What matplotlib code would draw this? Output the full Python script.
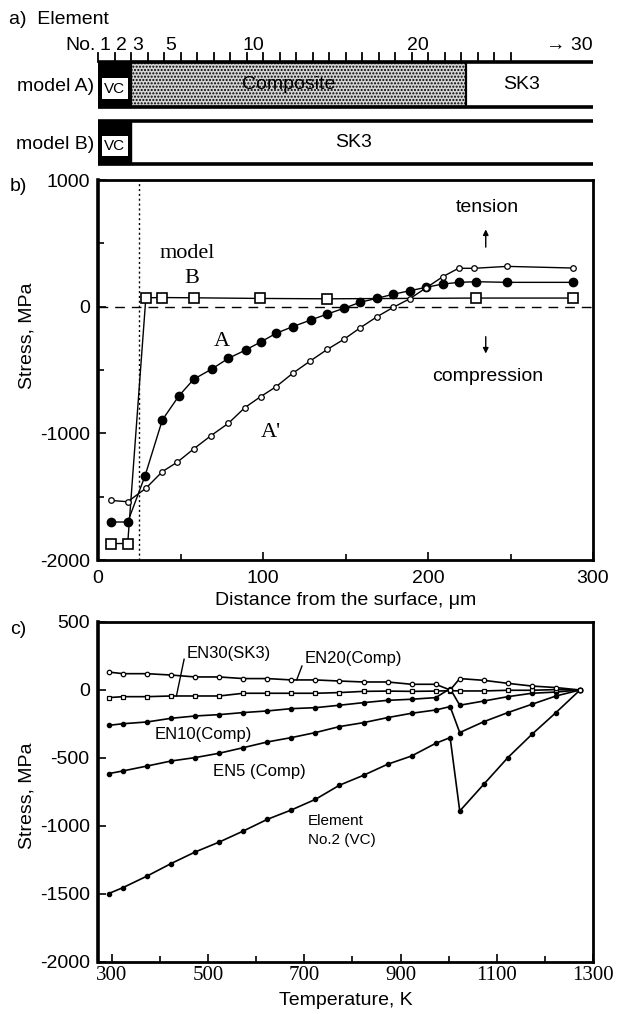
import matplotlib
matplotlib.use('Agg')
import matplotlib.pyplot as plt
from matplotlib.patches import Rectangle
from matplotlib.ticker import MultipleLocator

plt.rcParams['font.family'] = ['Liberation Sans', 'DejaVu Sans']
plt.rcParams['axes.unicode_minus'] = False
plt.rcParams['hatch.color'] = '#9a9a9a'
SERIF = ['Liberation Serif', 'DejaVu Serif']

# ---- a) element layout of the two models ----
elem_labels = ['1', '2', '3', '5', '10', '20']
elem_label_pos = [1, 2, 3, 5, 10, 20]
n_ticks = 25
models = ['model A)', 'model B)']
segments = [
    [('VC', 0, 2), ('Composite', 2, 22.3), ('SK3', 22.3, 30)],
    [('VC', 0, 2), ('SK3', 2, 30)],
]

# ---- b) residual stress vs depth ----
xA = [8, 18, 28.5, 39, 49, 58, 69, 79, 89.5, 99, 108, 118, 129, 139, 149, 159,
      169, 179, 189, 199, 209, 219, 229, 248, 288]
yA = [-1700, -1700, -1336, -894, -705, -573, -492, -408, -342, -276, -210, -158,
      -105, -58, -13, 35, 66, 98, 126, 153, 179, 192, 197, 192, 192]
xA2 = [8, 18, 29, 39, 48, 58, 68.5, 79, 89, 98.6, 108, 118, 128.5, 139, 149, 159,
       169, 179, 189, 199, 209, 218.5, 228, 248, 288]
yA2 = [-1530, -1540, -1434, -1302, -1228, -1123, -1018, -921, -797, -710, -631,
       -526, -430, -337, -258, -166, -80, -5, 63, 150, 237, 303, 303, 318, 305]
xB = [8, 18, 29, 39, 58, 98, 139, 229, 288]
yB = [-1870, -1870, 70, 72, 70, 65, 62, 68, 68]
interface_x = 25

# ---- c) stress vs temperature ----
temp = [293, 323, 373, 423, 473, 523, 573, 623, 673, 723, 773, 823, 873, 923,
        973, 1003, 1023, 1073, 1123, 1173, 1223, 1273]
en20 = [132, 120, 120, 110, 96, 96, 84, 84, 74, 74, 66, 59, 59, 42, 42, 0,
        84, 71, 49, 29, 18, 0]
en30 = [-56, -49, -49, -44, -44, -44, -24, -24, -24, -24, -19, -10, -8, -10,
        -8, -5, -7, -7, -2, -2, 3, 0]
en10 = [-260, -248, -235, -208, -191, -181, -166, -154, -137, -130, -112, -93,
        -76, -68, -56, 10, -112, -81, -49, -24, -15, 0]
en5 = [-615, -595, -559, -522, -497, -465, -424, -382, -350, -313, -269, -240,
       -203, -171, -147, -122, -313, -233, -166, -105, -44, 0]
vc2 = [-1497, -1453, -1368, -1276, -1191, -1118, -1037, -951, -882, -804, -700,
       -627, -546, -485, -392, -350, -890, -693, -497, -326, -166, 0]

W, H = 623, 1014
fig = plt.figure(figsize=(W / 100, H / 100), dpi=100)

def box(l, t, r, b):
    return [l / W, 1 - b / H, (r - l) / W, (b - t) / H]

FS = 14

# ================= panel a =================
axa = fig.add_axes(box(98, 0, 593, 178))
axa.set_xlim(0, 30)
axa.set_ylim(178, 0)
axa.axis('off')
rows = [(62, 107), (121, 164)]

for k in range(n_ticks + 1):
    axa.plot([k, k], [53, 62], color='k', lw=1.3, clip_on=False)
for lab, p in zip(elem_labels, elem_label_pos):
    axa.text(p - 0.6, 46, lab, ha='center', va='center', fontsize=FS)
axa.text(-0.15, 46, 'No.', ha='right', va='center', fontsize=FS)
axa.text(30, 46, '\u2192 30', ha='right', va='center', fontsize=FS)
axa.text(-5.4, 20, 'a)  Element', ha='left', va='center', fontsize=FS)

for name, segs, (top, bot) in zip(models, segments, rows):
    h = bot - top
    for mat, x0, x1 in segs:
        if mat == 'VC':
            axa.add_patch(Rectangle((x0, top), x1 - x0, h, facecolor='k', edgecolor='k'))
            axa.add_patch(Rectangle((x0 + 0.25, top + 0.36 * h), x1 - x0 - 0.45, 0.46 * h,
                                    facecolor='white', edgecolor='none'))
            axa.text((x0 + x1) / 2 + 0.02, top + 0.59 * h, 'VC', ha='center', va='center',
                     fontsize=11)
        elif mat == 'Composite':
            axa.add_patch(Rectangle((x0, top), x1 - x0, h, facecolor='#d4d4d4',
                                    edgecolor='k', lw=1.6, hatch='.....'))
            axa.text((x0 + x1) / 2 - 0.6, top + h / 2, mat, ha='center', va='center',
                     fontsize=FS)
        else:
            axa.text((x0 + x1) / 2 - 0.5, top + h / 2, mat, ha='center', va='center',
                     fontsize=FS)
    axa.plot([0, 30], [top, top], color='k', lw=2.6, solid_capstyle='butt')
    axa.plot([0, 30], [bot, bot], color='k', lw=2.6, solid_capstyle='butt')
    axa.text(-0.25, top + h / 2 + 2, name, ha='right', va='center', fontsize=FS)

# ================= panel b =================
axb = fig.add_axes(box(98, 180, 593, 560))
axb.plot(xB, yB, '-s', color='k', lw=1.0, ms=6.5, mfc='white', mew=1.2)
axb.plot(xA, yA, '-o', color='k', lw=1.0, ms=6, mfc='k')
axb.plot(xA2, yA2, '-o', color='k', lw=1.0, ms=4, mfc='white', mew=0.9)
axb.axhline(0, color='k', lw=1.0, ls=(0, (7, 5)))
axb.axvline(interface_x, color='k', lw=1.0, ls=(0, (1.5, 2)))
axb.set_xlim(0, 300)
axb.set_ylim(-2000, 1000)
axb.xaxis.set_major_locator(MultipleLocator(100))
axb.xaxis.set_minor_locator(MultipleLocator(50))
axb.yaxis.set_major_locator(MultipleLocator(1000))
axb.yaxis.set_minor_locator(MultipleLocator(500))
axb.set_xlabel('Distance from the surface, \u03bcm', fontsize=FS, labelpad=4)
axb.set_ylabel('Stress, MPa', fontsize=FS)
axb.yaxis.set_label_coords(-0.127, 0.59)
axb.text(54, 423, 'model', family=SERIF, fontsize=16, ha='center', va='center')
axb.text(57, 226, 'B', family=SERIF, fontsize=16, ha='center', va='center')
axb.text(75, -278, 'A', family=SERIF, fontsize=16, ha='center', va='center')
axb.text(105, -997, "A'", family=SERIF, fontsize=16, ha='center', va='center')
axb.text(236, 786, 'tension', fontsize=FS, ha='center', va='center')
axb.text(236, -555, 'compression', fontsize=FS, ha='center', va='center')
arrow = dict(arrowstyle='-|>', lw=1.0, color='k', mutation_scale=8, shrinkA=0, shrinkB=0)
axb.annotate('', xy=(235, 610), xytext=(235, 470), arrowprops=arrow)
axb.annotate('', xy=(235, -370), xytext=(235, -237), arrowprops=arrow)
fig.text(10 / W, 1 - 187 / H, 'b)', fontsize=FS, ha='left', va='center')

# ================= panel c =================
axc = fig.add_axes(box(98, 622, 593, 962))
axc.plot(temp, vc2, '-o', color='k', lw=1.2, ms=3)
axc.plot(temp, en5, '-o', color='k', lw=1.2, ms=3)
axc.plot(temp, en10, '-o', color='k', lw=1.2, ms=3)
axc.plot(temp, en30, '-s', color='k', lw=1.2, ms=3.2, mfc='white', mew=0.9)
axc.plot(temp, en20, '-o', color='k', lw=1.2, ms=3.2, mfc='white', mew=0.9)
axc.set_xlim(271, 1300)
axc.set_ylim(-2000, 500)
axc.set_xticks([300, 500, 700, 900, 1100, 1300])
axc.xaxis.set_minor_locator(MultipleLocator(100))
axc.yaxis.set_major_locator(MultipleLocator(500))
axc.set_xlabel('Temperature, K', fontsize=FS, labelpad=5)
axc.set_ylabel('Stress, MPa', fontsize=FS)
axc.yaxis.set_label_coords(-0.127, 0.49)
axc.text(456, 270, 'EN30(SK3)', fontsize=12, ha='left', va='center')
axc.plot([450, 434], [226, -44], color='k', lw=1.0)
axc.text(700, 233, 'EN20(Comp)', fontsize=12, ha='left', va='center')
axc.plot([695, 684], [176, 74], color='k', lw=1.0)
axc.text(389, -326, 'EN10(Comp)', fontsize=12, ha='left', va='center')
axc.text(510, -596, 'EN5 (Comp)', fontsize=12, ha='left', va='center')
axc.text(707, -1032, 'Element\nNo.2 (VC)', fontsize=11, ha='left', va='center',
         linespacing=1.4)
fig.text(10 / W, 1 - 630 / H, 'c)', fontsize=FS, ha='left', va='center')

for ax in (axb, axc):
    for s in ax.spines.values():
        s.set_linewidth(2.0)
    ax.spines['left'].set_linewidth(2.6)
    ax.tick_params(which='both', direction='in', labelsize=FS, width=1.2)
    ax.tick_params(which='major', length=6, pad=6)
    ax.tick_params(which='minor', length=4)
    ax.tick_params(axis='x', which='major', pad=7)
for lab in axc.get_xticklabels():
    lab.set_family(SERIF)
    lab.set_fontsize(15)
axc.tick_params(axis='x', which='major', pad=3)

fig.savefig('out.png', dpi=100)
